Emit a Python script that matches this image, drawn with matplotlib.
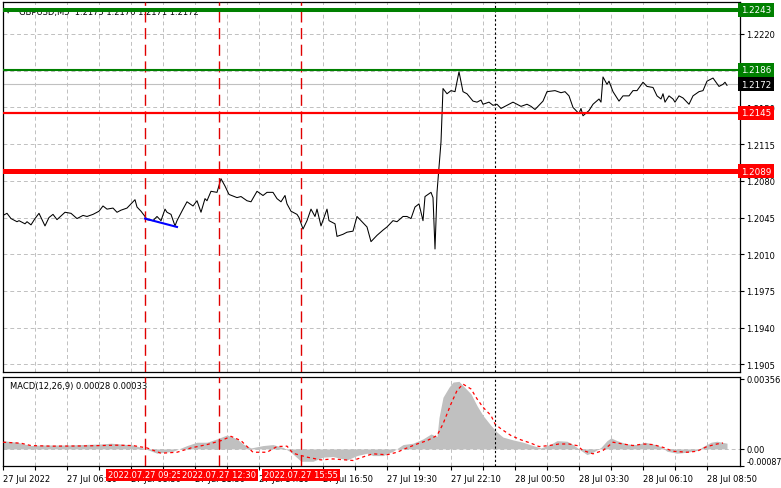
import numpy as np
import matplotlib
matplotlib.use("Agg")
import matplotlib.pyplot as plt

plt.rcParams["font.family"] = "DejaVu Sans"

# === DATA (bar index = 5-minute bars from 27 Jul 03:30) ===
price_bar = [0, 2, 4, 7, 8, 11, 12, 14, 16, 18, 21, 23, 25, 27, 31, 34, 37, 40, 42, 45,
             48, 50, 52, 55, 57, 59, 62, 64, 66, 67, 69, 71, 72, 75, 77, 79, 81, 82, 84, 86,
             87, 90, 92, 95, 97, 99, 101, 102, 104, 107, 109, 111, 113, 117, 119, 122, 124, 127, 130, 132,
             135, 137, 139, 141, 142, 144, 147, 148, 150, 152, 154, 156, 157, 159, 162, 163, 166, 167, 170, 172,
             175, 177, 179, 182, 184, 187, 190, 192, 195, 197, 200, 202, 204, 206, 208, 210, 211, 214, 215, 216,
             217, 219, 220, 222, 224, 226, 228, 230, 232, 235, 237, 239, 240, 243, 245, 247, 249, 252, 255, 259,
             262, 264, 266, 270, 272, 276, 279, 281, 283, 285, 288, 289, 290, 293, 295, 298, 299, 300, 302, 303,
             305, 308, 310, 313, 315, 317, 320, 322, 325, 327, 329, 330, 331, 333, 335, 336, 338, 340, 343, 345,
             348, 350, 352, 355, 358, 360, 361, 362]
price = [1.2047, 1.2049, 1.2044, 1.2041, 1.2042, 1.2039, 1.2041, 1.2038, 1.2044, 1.2049, 1.2037, 1.2045, 1.2048, 1.2043, 1.2050, 1.2049, 1.2044, 1.2047, 1.2046, 1.2048,
         1.2051, 1.2056, 1.2053, 1.2054, 1.2050, 1.2052, 1.2054, 1.2058, 1.2062, 1.2055, 1.2051, 1.2046, 1.2043, 1.2042, 1.2046, 1.2042, 1.2053, 1.2050, 1.2048, 1.2037,
         1.2042, 1.2053, 1.2060, 1.2056, 1.2061, 1.2050, 1.2063, 1.2061, 1.2070, 1.2069, 1.2082, 1.2075, 1.2067, 1.2064, 1.2065, 1.2061, 1.2060, 1.2070, 1.2066, 1.2069,
         1.2069, 1.2063, 1.2060, 1.2066, 1.2058, 1.2051, 1.2048, 1.2045, 1.2034, 1.2042, 1.2053, 1.2046, 1.2053, 1.2037, 1.2053, 1.2042, 1.2039, 1.2027, 1.2029, 1.2031,
         1.2032, 1.2046, 1.2042, 1.2036, 1.2022, 1.2028, 1.2033, 1.2036, 1.2042, 1.2041, 1.2046, 1.2046, 1.2044, 1.2055, 1.2058, 1.2042, 1.2065, 1.2069, 1.2064, 1.2015,
         1.2069, 1.2117, 1.2168, 1.2163, 1.2166, 1.2165, 1.2184, 1.2165, 1.2163, 1.2156, 1.2155, 1.2157, 1.2153, 1.2155, 1.2152, 1.2153, 1.2149, 1.2152, 1.2155, 1.2151,
         1.2153, 1.2151, 1.2148, 1.2156, 1.2165, 1.2166, 1.2164, 1.2165, 1.2161, 1.2150, 1.2144, 1.2149, 1.2142, 1.2147, 1.2153, 1.2158, 1.2155, 1.2179, 1.2172, 1.2175,
         1.2165, 1.2156, 1.2161, 1.2161, 1.2166, 1.2166, 1.2174, 1.2170, 1.2169, 1.2161, 1.2158, 1.2163, 1.2155, 1.2161, 1.2158, 1.2155, 1.2161, 1.2159, 1.2153, 1.2161,
         1.2165, 1.2166, 1.2175, 1.2178, 1.2170, 1.2172, 1.2174, 1.2171]

trend_bar = [71, 87]
trend_price = [1.2044, 1.2036]

hist_bar = [0, 7, 14, 19, 32, 49, 54, 65, 70, 77, 85, 92, 97, 102, 107, 112, 117, 120, 124, 130,
            135, 140, 144, 149, 155, 160, 165, 172, 177, 182, 185, 190, 195, 200, 205, 210, 214, 217, 218, 220,
            223, 225, 228, 230, 234, 237, 240, 244, 247, 250, 255, 260, 265, 269, 274, 277, 282, 285, 289, 292,
            295, 299, 302, 304, 307, 312, 317, 321, 325, 329, 332, 337, 342, 347, 350, 354, 357, 362]
hist_val = [0.00042, 0.00034, 0.00017, 0.00020, 0.00020, 0.00025, 0.00029, 0.00020, 0.00005, -0.00022,
            -0.00012, 0.00017, 0.00034, 0.00034, 0.00051, 0.00071, 0.00051, 0.00025, 0.00005, 0.00017,
            0.00022, 0.00008, -0.00017, -0.00063, -0.00063, -0.00042, -0.00039, -0.00056, -0.00034, -0.00022,
            -0.00034, -0.00034, -0.00012, 0.00022, 0.00029, 0.00051, 0.00076, 0.00063, 0.00160, 0.00263,
            0.00314, 0.00340, 0.00344, 0.00322, 0.00280, 0.00220, 0.00170, 0.00119, 0.00085, 0.00060,
            0.00046, 0.00034, 0.00017, 0.00005, 0.00025, 0.00042, 0.00039, 0.00022, -0.00008, -0.00029,
            -0.00017, 0.00008, 0.00042, 0.00056, 0.00042, 0.00025, 0.00022, 0.00034, 0.00025, 0.00012,
            -0.00012, -0.00022, -0.00017, -0.00008, 0.00012, 0.00034, 0.00039, 0.00029]

signal_bar = [0, 9, 14, 24, 40, 57, 65, 72, 79, 87, 94, 102, 109, 114, 119, 125, 132, 137, 142, 145,
              152, 159, 165, 175, 182, 185, 192, 197, 202, 207, 212, 217, 220, 224, 227, 230, 234, 237, 240, 244,
              246, 249, 254, 259, 264, 268, 273, 278, 283, 287, 290, 295, 300, 305, 310, 315, 320, 325, 330, 335,
              342, 347, 352, 357, 360]
signal_val = [0.00034, 0.00029, 0.00017, 0.00014, 0.00015, 0.00019, 0.00017, 0.00005, -0.00022, -0.00017,
              0.00005, 0.00022, 0.00042, 0.00064, 0.00042, -0.00017, -0.00017, 0.00012, 0.00014, -0.00022,
              -0.00042, -0.00056, -0.00051, -0.00059, -0.00034, -0.00025, -0.00030, -0.00017, 0.00005, 0.00025,
              0.00042, 0.00068, 0.00127, 0.00229, 0.00297, 0.00330, 0.00305, 0.00255, 0.00212, 0.00170,
              0.00127, 0.00102, 0.00068, 0.00046, 0.00029, 0.00012, 0.00017, 0.00025, 0.00025, 0.00017,
              -0.00008, -0.00025, -0.00008, 0.00034, 0.00025, 0.00017, 0.00025, 0.00022, 0.00008, -0.00012,
              -0.00017, -0.00012, 0.00012, 0.00025, 0.00030]

x_tick_bars = [0, 32, 64, 96, 128, 160, 192, 224, 256, 288, 320, 352]
x_tick_labels = ["27 Jul 2022", "27 Jul 06:10", "27 Jul 08:50", "27 Jul 11:30", "27 Jul 14:10",
                 "27 Jul 16:50", "27 Jul 19:30", "27 Jul 22:10", "28 Jul 00:50", "28 Jul 03:30",
                 "28 Jul 06:10", "28 Jul 08:50"]
y_ticks = [1.1905, 1.1940, 1.1975, 1.2010, 1.2045, 1.2080, 1.2115, 1.2150, 1.2185, 1.2220]

event_bars = [71, 108, 149]
event_labels = ["2022.07.27 09:25", "2022.07.27 12:30", "2022.07.27 15:55"]
day_sep_bar = 246

levels = [1.2243, 1.2186, 1.2145, 1.2089]
level_colors = ["#008000", "#008000", "#ff0000", "#ff0000"]
level_widths = [2.9, 1.5, 1.6, 3.6]
last_price = 1.2172

macd_ticks = [0.00356, 0.0, -0.00087]
macd_tick_labels = ["0.00356", "0.00", "-0.00087"]

# === FIGURE ===
W, H = 781, 489
fig = plt.figure(figsize=(W / 100, H / 100), dpi=100)
ax = fig.add_axes([3 / W, (H - 373) / H, 737 / W, 370 / H])
ax2 = fig.add_axes([3 / W, (H - 467) / H, 737 / W, 89 / H], sharex=ax)

GRID = "#c0c0c0"
FS = 6

for a in (ax, ax2):
    a.set_xlim(0, 368.5)
    a.yaxis.tick_right()
    a.tick_params(axis="y", length=3, width=0.8, pad=1.5, labelsize=FS, colors="black")
    for s in a.spines.values():
        s.set_linewidth(0.9)
    a.set_xticks(np.arange(16, 368, 16), minor=True)
    a.grid(True, which="minor", axis="x", color=GRID, linestyle=(0, (4, 3)), linewidth=0.7)
    a.grid(True, which="major", axis="x", color=GRID, linestyle=(0, (4, 3)), linewidth=0.7)
    for b in event_bars:
        a.axvline(b, color="#e00000", linestyle=(0, (8, 4)), linewidth=1.0, zorder=4)
    a.axvline(day_sep_bar, color="black", linestyle=(0, (2, 2)), linewidth=0.8, zorder=4)

# --- price panel ---
ax.set_ylim(1.18977, 1.22505)
ax.set_yticks(y_ticks)
ax.set_yticklabels(["" if t == 1.2185 else f"{t:.4f}" for t in y_ticks])
ax.grid(True, axis="y", color=GRID, linestyle=(0, (4, 3)), linewidth=0.7)
ax.tick_params(axis="x", which="both", bottom=False, labelbottom=False)

ax.axhline(last_price, color="#c0c0c0", linewidth=0.8, zorder=2)
ax.plot(price_bar, price, color="black", linewidth=0.75, zorder=3)
ax.plot(trend_bar, trend_price, color="#0000ff", linewidth=1.5, zorder=4)

ax.text(0.004, 0.975, "\u25bc", transform=ax.transAxes, fontsize=4, va="center", ha="left")
ax.text(0.022, 0.975, "GBPUSD,M5  1.2175 1.2176 1.2171 1.2172", transform=ax.transAxes,
        fontsize=FS, va="center", ha="left", zorder=2)

for lv, c, lw in zip(levels, level_colors, level_widths):
    ax.axhline(lv, color=c, linewidth=lw, zorder=5)
    ax.text(1.0015, lv, f"{lv:.4f}", transform=ax.get_yaxis_transform(), fontsize=FS + 0.3,
            color="white", va="center", ha="left", clip_on=False, zorder=6,
            bbox=dict(boxstyle="square,pad=0.3", fc=c, ec="none"))
ax.text(1.0015, last_price, f"{last_price:.4f}", transform=ax.get_yaxis_transform(), fontsize=FS + 0.3,
        color="white", va="center", ha="left", clip_on=False, zorder=6,
        bbox=dict(boxstyle="square,pad=0.3", fc="black", ec="none"))

# --- MACD panel ---
ax2.set_ylim(-0.000865, 0.00366)
ax2.fill_between(hist_bar, 0, hist_val, color="#c0c0c0", linewidth=0, zorder=2)
ax2.axhline(0, color=GRID, linestyle=(0, (4, 3)), linewidth=0.7, zorder=1)
ax2.plot(signal_bar, signal_val, color="#ff0000", linestyle=(0, (2.5, 2.5)), linewidth=0.9, zorder=3)
ax2.set_yticks(macd_ticks)
ax2.set_yticklabels(macd_tick_labels)
ax2.get_yticklabels()[2].set_va("bottom")
ax2.get_yticklabels()[2].set_fontsize(5.8)
ax2.text(0.009, 0.9, "MACD(12,26,9) 0.00028 0.00033", transform=ax2.transAxes,
         fontsize=FS, va="center", ha="left")

ax2.set_xticks(x_tick_bars)
ax2.set_xticklabels(x_tick_labels)
ax2.tick_params(axis="x", which="both", length=3, width=0.8, pad=2.5, labelsize=FS)
for lab in ax2.get_xticklabels():
    lab.set_ha("left")

for b, lab in zip(event_bars, event_labels):
    ax2.text(b, -0.000865 - 0.00045, lab, transform=ax2.transData, fontsize=FS,
             color="white", va="center", ha="center", clip_on=False, zorder=6,
             bbox=dict(boxstyle="square,pad=0.2", fc="#ff0000", ec="none"))

fig.savefig("out.png", dpi=100)
